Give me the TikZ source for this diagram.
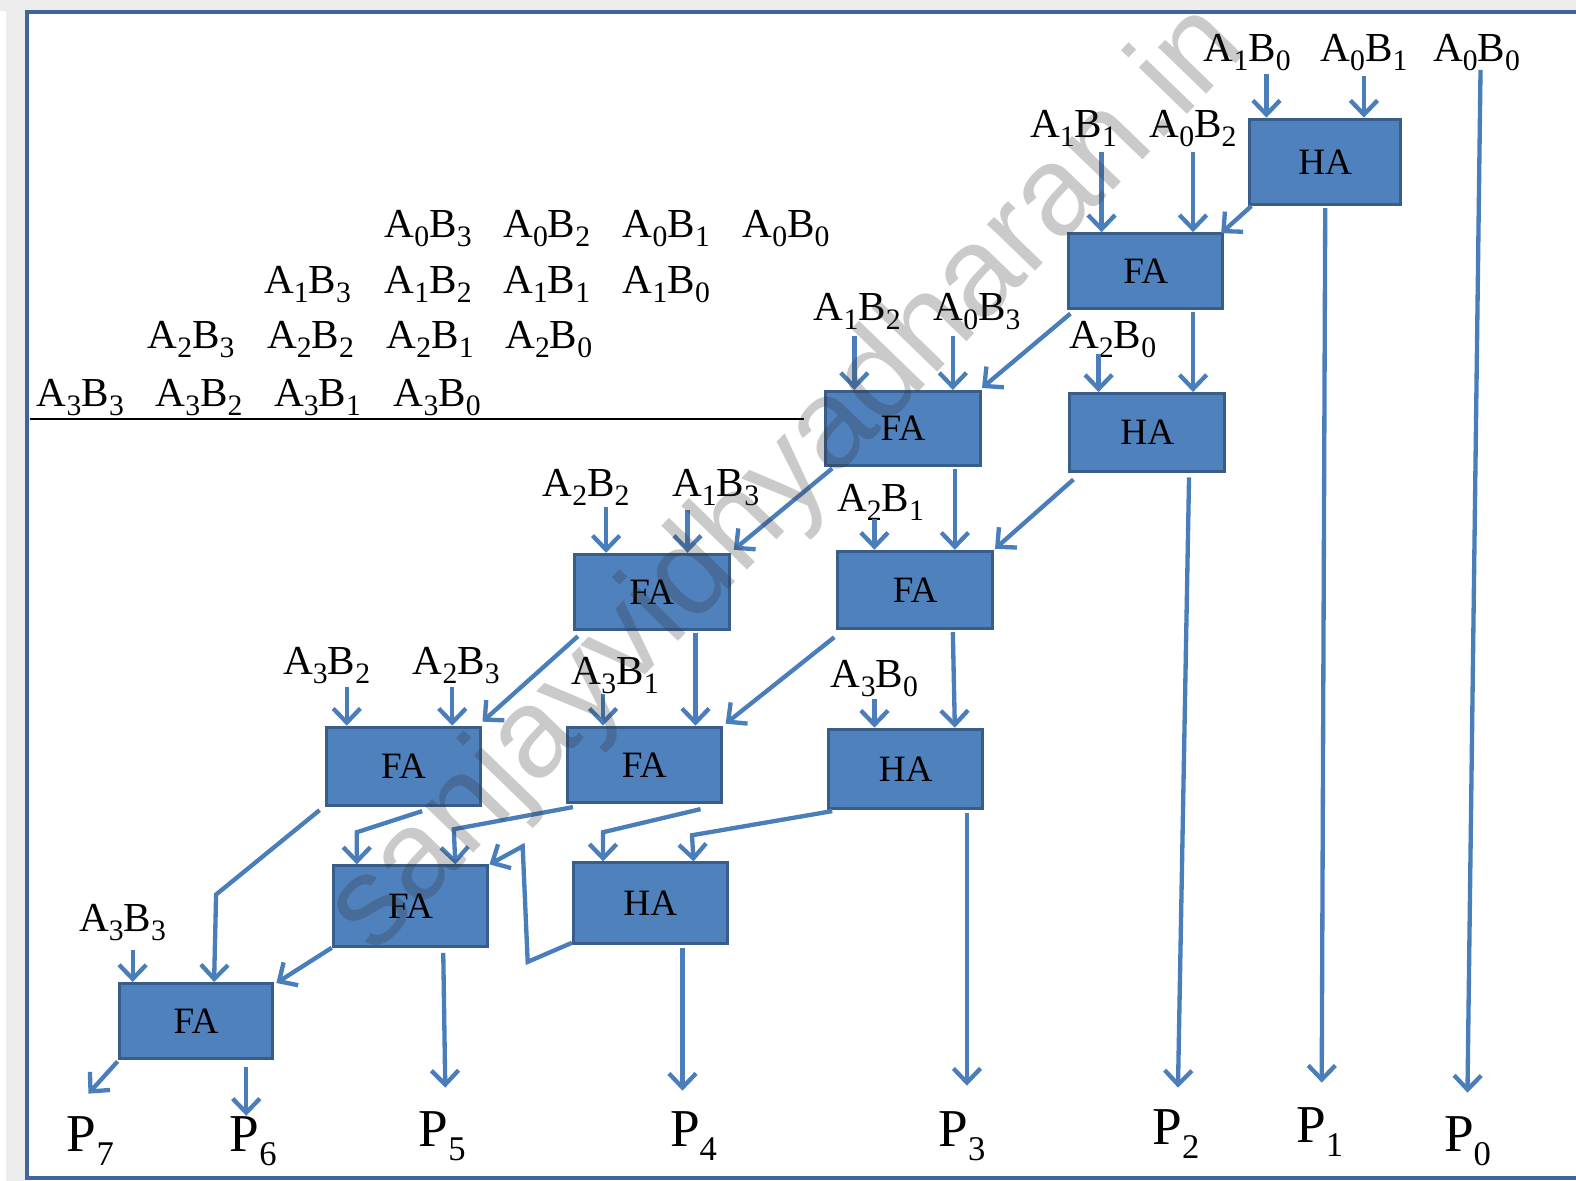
\documentclass[tikz,border=0pt]{standalone}
\usepackage{fontspec}
\usepackage{graphicx}
\setmainfont{Liberation Serif}
\newfontfamily\wmfont{Liberation Sans}
\usetikzlibrary{arrows.meta}
\definecolor{boxblue}{HTML}{4F81BD}
\definecolor{bordblue}{HTML}{385D8A}
\definecolor{arrblue}{HTML}{4A7EBB}
\definecolor{frameblue}{HTML}{41639E}
\definecolor{margray}{HTML}{EDEDED}
\newcommand\sbx[1]{\raisebox{-0.22em}{\scalebox{0.72}{#1}}}
\newcommand\ab[2]{A\sbx{#1}B\sbx{#2}}
\newcommand\pp[1]{P\raisebox{-0.26em}{\scalebox{0.65}{#1}}}
\tikzset{
  lab/.style={font=\fontsize{41}{48}\selectfont, inner sep=0pt, anchor=base},
  plab/.style={font=\fontsize{53}{60}\selectfont, inner sep=0pt, anchor=base},
  blk/.style={draw=bordblue, fill=boxblue, line width=3pt, inner sep=0pt,
    minimum width=154pt, minimum height=77pt, font=\fontsize{37}{42}\selectfont},
  arr/.style={draw=arrblue, line width=4.3pt, line join=miter,
    -{Straight Barb[length=14pt,width=27pt]}},
}
\begin{document}
\begin{tikzpicture}[x=1pt,y=-1pt]
\useasboundingbox (0,0) rectangle (1568,1175);
% page margins and frame
\fill[margray] (0,0) rectangle (1568,11);
\fill[margray] (6,0) rectangle (25,1175);
\draw[frameblue, line width=4pt] (1568,12) -- (27,12) -- (27,1172) -- (1568,1172);

% partial product table
\node[lab] (r0c3) at (426,236) {\ab03};
\node[lab] (r0c2) at (544,236) {\ab02};
\node[lab] (r0c1) at (663,236) {\ab01};
\node[lab] (r0c0) at (782,236) {\ab00};
\node[lab] (r1c3) at (306,292) {\ab13};
\node[lab] (r1c2) at (426,292) {\ab12};
\node[lab] (r1c1) at (544,292) {\ab11};
\node[lab] (r1c0) at (663,292) {\ab10};
\node[lab] (r2c3) at (190,347) {\ab23};
\node[lab] (r2c2) at (309,347) {\ab22};
\node[lab] (r2c1) at (428,347) {\ab21};
\node[lab] (r2c0) at (546,347) {\ab20};
\node[lab] (r3c3) at (80,404) {\ab33};
\node[lab] (r3c2) at (198,404) {\ab32};
\node[lab] (r3c1) at (316,404) {\ab31};
\node[lab] (r3c0) at (435,404) {\ab30};
\coordinate (ruleL) at (30,417);
\coordinate (ruleR) at (800,417);
\draw[line width=2.5pt] (ruleL) -- (ruleR);

% input labels
\node[lab] (iA1B0) at (1241,61) {\ab10};
\node[lab] (iA0B1) at (1357,61) {\ab01};
\node[lab] (iA0B0) at (1469,61) {\ab00};
\node[lab] (iA1B1) at (1068,137) {\ab11};
\node[lab] (iA0B2) at (1187,137) {\ab02};
\node[lab] (iA1B2) at (853,319) {\ab12};
\node[lab] (iA0B3) at (972,319) {\ab03};
\node[lab] (iA2B0) at (1107,347) {\ab20};
\node[lab] (iA2B2) at (583,494) {\ab22};
\node[lab] (iA1B3) at (712,494) {\ab13};
\node[lab] (iA2B1) at (876,509) {\ab21};
\node[lab] (iA3B2) at (325,671) {\ab32};
\node[lab] (iA2B3) at (454,671) {\ab23};
\node[lab] (iA3B1) at (612,681) {\ab31};
\node[lab] (iA3B0) at (870,684) {\ab30};
\node[lab] (iA3B3) at (122,927) {\ab33};

% output labels
\node[plab] (P7) at (90,1146) {\pp7};
\node[plab] (P6) at (252,1146) {\pp6};
\node[plab] (P5) at (440,1141) {\pp5};
\node[plab] (P4) at (690,1141) {\pp4};
\node[plab] (P3) at (957,1141) {\pp3};
\node[plab] (P2) at (1170,1139) {\pp2};
\node[plab] (P1) at (1313,1137) {\pp1};
\node[plab] (P0) at (1460,1146) {\pp0};

% adder blocks
\node[blk, minimum width=150pt, minimum height=85pt] (HA1) at (1318.5,161) {HA};
\node[blk, minimum width=153pt, minimum height=74pt] (FA1) at (1140,269.5) {FA};
\node[blk, minimum height=74pt] (FA2) at (898.5,426.5) {FA};
\node[blk, minimum height=78pt] (HA2) at (1141.5,430.5) {HA};
\node[blk, minimum height=75pt] (FA3) at (648.5,589) {FA};
\node[blk, minimum height=77pt] (FA4) at (910.5,587) {FA};
\node[blk, minimum height=78pt] (FA5) at (401.5,762.5) {FA};
\node[blk, minimum width=153pt, minimum height=75pt] (FA6) at (641,761) {FA};
\node[blk, minimum width=153pt, minimum height=79pt] (HA3) at (901,765) {HA};
\node[blk, minimum height=80pt] (FA7) at (408.5,901.5) {FA};
\node[blk, minimum width=153pt, minimum height=80pt] (HA4) at (647,898.5) {HA};
\node[blk, minimum width=153pt, minimum height=75pt] (FA8) at (195,1016) {FA};

% connectors
\draw[arr] ([xshift=19pt,yshift=-3pt]iA1B0.south) -- ([xshift=-58.5pt]HA1.north);
\draw[arr] ([yshift=-5pt]iA0B1.south) -- ([xshift=38.5pt]HA1.north);
\draw[arr] ([xshift=4pt,yshift=1pt]iA0B0.south) -- ([yshift=24pt]P0.north);
\draw[arr] ([yshift=-2pt]HA1.south) -- ([xshift=2pt,yshift=25pt]P1.north);
\draw[arr] ([xshift=3pt]HA1.south west) -- ([xshift=-3pt,yshift=-1pt]FA1.north east);
\draw[arr] ([xshift=28pt,yshift=-5pt]iA1B1.south) -- ([xshift=-44pt]FA1.north);
\draw[arr] ([yshift=-5pt]iA0B2.south) -- ([xshift=47pt]FA1.north);
\draw[arr] ([xshift=3pt,yshift=-4pt]FA1.south west) -- ([yshift=2pt]FA2.north east);
\draw[arr] ([xshift=47pt,yshift=-2pt]FA1.south) -- ([xshift=45.5pt]HA2.north);
\draw[arr] ([xshift=-14pt,yshift=4pt]iA2B0.south) -- ([xshift=-48.5pt]HA2.north);
\draw[arr] ([xshift=-3pt,yshift=-6pt]iA1B2.south) -- ([xshift=-48.5pt]FA2.north);
\draw[arr] ([xshift=-24pt,yshift=-6pt]iA0B3.south) -- ([xshift=49.5pt]FA2.north);
\draw[arr] ([xshift=8pt,yshift=-1pt]FA2.south west) -- ([xshift=3pt,yshift=3pt]FA3.north east);
\draw[arr] ([xshift=51.5pt,yshift=-2pt]FA2.south) -- ([xshift=39.5pt]FA4.north);
\draw[arr] ([xshift=5pt,yshift=-6pt]HA2.south west) -- ([xshift=1pt,yshift=1pt]FA4.north east);
\draw[arr] ([xshift=41.5pt,yshift=-4pt]HA2.south) -- ([xshift=2pt,yshift=22pt]P2.north);
\draw[arr] ([xshift=20pt,yshift=-1pt]iA2B2.south) -- ([xshift=-45.5pt]FA3.north);
\draw[arr] ([xshift=-28pt,yshift=-4pt]iA1B3.south) -- ([xshift=35.5pt]FA3.north);
\draw[arr] ([xshift=-6pt,yshift=2pt]iA2B1.south) -- ([xshift=-40.5pt]FA4.north);
\draw[arr] ([xshift=5pt,yshift=-5pt]FA3.south west) -- ([yshift=4pt]FA5.north east);
\draw[arr] ([xshift=43.5pt,yshift=-2pt]FA3.south) -- ([xshift=51pt]FA6.north);
\draw[arr] ([xshift=-2pt,yshift=-7pt]FA4.south west) -- ([xshift=3pt,yshift=2pt]FA6.north east);
\draw[arr] ([xshift=37.5pt,yshift=-2pt]FA4.south) -- ([xshift=49pt]HA3.north);
\draw[arr] ([xshift=20pt,yshift=-3pt]iA3B2.south) -- ([xshift=-56.5pt]FA5.north);
\draw[arr] ([xshift=-4pt,yshift=-3pt]iA2B3.south) -- ([xshift=48.5pt]FA5.north);
\draw[arr] ([xshift=-12pt]iA3B1.south) -- ([xshift=-41pt]FA6.north);
\draw[arr] ([yshift=-2pt]iA3B0.south) -- ([xshift=-31pt]HA3.north);
\draw[arr] ([xshift=-5pt,yshift=-3pt]FA5.south west) -- ++(-103,84) -- ([xshift=18pt]FA8.north);
\draw[arr] ([xshift=18.5pt,yshift=-4pt]FA5.south) -- ++(-65,21) -- ([xshift=-53.5pt]FA7.north);
\draw[arr] ([xshift=7pt,yshift=-3pt]FA6.south west) -- ++(-118.5,22) -- ([xshift=44.5pt]FA7.north);
\draw[arr] ([xshift=56pt,yshift=-5pt]FA6.south) -- ++(-97,23) -- ([xshift=-47pt]HA4.north);
\draw[arr] ([xshift=5pt,yshift=-1pt]HA3.south west) -- ++(-139.5,24) -- ([xshift=43pt]HA4.north);
\draw[arr] ([xshift=61pt,yshift=-3pt]HA3.south) -- ([xshift=5pt,yshift=26pt]P3.north);
\draw[arr] ([yshift=2pt]HA4.south west) -- ++(-44,19) -- ++(-5,-115) -- (FA7.north east);
\draw[arr] ([xshift=32pt,yshift=-3pt]HA4.south) -- ([xshift=-11pt,yshift=21pt]P4.north);
\draw[arr] (FA7.south west) -- ([xshift=2pt,yshift=-1pt]FA8.north east);
\draw[arr] ([xshift=32.5pt,yshift=-5pt]FA7.south) -- ([xshift=3pt,yshift=24pt]P5.north);
\draw[arr] ([xshift=10pt,yshift=-9pt]iA3B3.south) -- ([xshift=-63pt]FA8.north);
\draw[arr] ([yshift=-1pt]FA8.south west) -- ([xshift=-2pt,yshift=23pt]P7.north);
\draw[arr] ([xshift=50pt,yshift=-7pt]FA8.south) -- ([xshift=-7pt,yshift=1pt]P6.north);

% watermark
\node[rotate=46, anchor=base, inner sep=0pt, text=black!80, text opacity=0.26,
  font=\wmfont\fontsize{126}{130}\selectfont] (wm) at (808,500) {sanjayvidhyadharan.in};
\end{tikzpicture}
\end{document}
